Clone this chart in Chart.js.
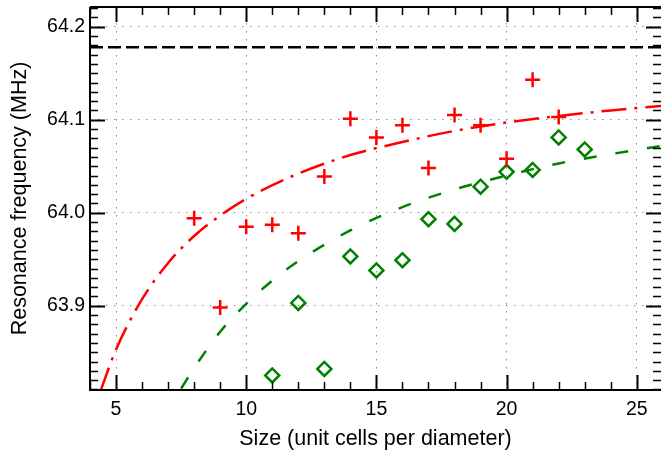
<!DOCTYPE html>
<html>
<head>
<meta charset="utf-8">
<script src="https://cdn.jsdelivr.net/npm/chart.js@4/dist/chart.umd.min.js"></script>
<style>
  html, body { margin: 0; padding: 0; background: #fff; }
  #wrap { width: 661px; height: 454px; }
</style>
</head>
<body>
<div id="wrap"><canvas id="c" width="661" height="454"></canvas></div>
<script>
// ---- data ----
const redSizes  = [8, 9, 10, 11, 12, 13, 14, 15, 16, 17, 18, 19, 20, 21, 22];
const redFreq   = [63.994, 63.898, 63.985, 63.987, 63.978, 64.039, 64.101, 64.081, 64.094, 64.048, 64.105, 64.094, 64.058, 64.143, 64.103];

const greenSizes = [11, 12, 13, 14, 15, 16, 17, 18, 19, 20, 21, 22, 23];
const greenFreq  = [63.825, 63.903, 63.832, 63.953, 63.938, 63.949, 63.993, 63.988, 64.028, 64.044, 64.046, 64.081, 64.068];

const redFitX = [4.4, 5, 6, 7, 8, 9, 10, 12, 14, 16, 18, 20, 22, 24, 26];
const redFitY = [63.808, 63.853, 63.907, 63.946, 63.975, 63.997, 64.015, 64.042, 64.062, 64.076, 64.088, 64.097, 64.104, 64.110, 64.115];

const greenFitX = [7.5, 8, 9, 10, 11, 12, 14, 16, 18, 20, 22, 24, 26];
const greenFitY = [63.811, 63.833, 63.872, 63.902, 63.927, 63.948, 63.981, 64.006, 64.025, 64.040, 64.053, 64.063, 64.072];

const limitX = [4, 26];
const limitY = [64.178, 64.178];

const xTicks = [5, 10, 15, 20, 25];
const yTicks = [63.9, 64.0, 64.1, 64.2];
const yTickLabels = ['63.9', '64.0', '64.1', '64.2'];

const xTitle = 'Size (unit cells per diameter)';
const yTitle = 'Resonance frequency (MHz)';

// ---- helpers ----
const pts = (xs, ys) => xs.map((x, i) => ({ x: x, y: ys[i] }));
const FONT = "'Liberation Sans', Arial, Helvetica, sans-serif";
const noPad = s => { s.paddingLeft = 0; s.paddingRight = 0; s.paddingTop = 0; s.paddingBottom = 0; };

const frameTicks = {
  id: 'frameTicks',
  afterDatasetsDraw(chart) {
    const ctx = chart.ctx;
    const a = chart.chartArea;
    const xs = chart.scales.x, ys = chart.scales.y;
    ctx.save();
    ctx.strokeStyle = '#000';
    // frame (left, bottom, top)
    ctx.lineWidth = 2;
    ctx.beginPath();
    ctx.moveTo(a.left, a.top); ctx.lineTo(a.right + 2, a.top);
    ctx.moveTo(a.left, a.top); ctx.lineTo(a.left, a.bottom);
    ctx.moveTo(a.left - 1, a.bottom); ctx.lineTo(a.right + 2, a.bottom);
    ctx.stroke();
    const MAJ = 15, MIN = 8;
    // x ticks (minor every 1, major every 5)
    for (let v = Math.ceil(xs.min); v <= Math.floor(xs.max); v++) {
      const px = Math.round(xs.getPixelForValue(v)) + 0.5;
      const major = v % 5 === 0;
      const L = major ? MAJ : MIN;
      ctx.lineWidth = major ? 2 : 1.5;
      ctx.beginPath();
      ctx.moveTo(px, a.bottom); ctx.lineTo(px, a.bottom - L);
      ctx.moveTo(px, a.top); ctx.lineTo(px, a.top + L);
      ctx.stroke();
    }
    // y ticks (minor every 0.01, major every 0.1)
    const i0 = Math.ceil(ys.min * 100 - 1e-6), i1 = Math.floor(ys.max * 100 + 1e-6);
    for (let i = i0; i <= i1; i++) {
      const v = i / 100;
      const py = Math.round(ys.getPixelForValue(v)) + 0.5;
      const major = i % 10 === 0;
      const L = major ? MAJ : MIN;
      ctx.lineWidth = major ? 2 : 1.5;
      ctx.beginPath();
      ctx.moveTo(a.left, py); ctx.lineTo(a.left + L, py);
      ctx.moveTo(a.right, py); ctx.lineTo(a.right - L, py);
      ctx.stroke();
    }
    ctx.restore();
  }
};

new Chart(document.getElementById('c'), {
  type: 'scatter',
  data: {
    datasets: [
      {
        type: 'line', label: 'limit', data: pts(limitX, limitY),
        borderColor: '#000', borderWidth: 2.5, borderDash: [13, 5],
        pointRadius: 0, fill: false, order: 3
      },
      {
        type: 'line', label: 'red fit', data: pts(redFitX, redFitY),
        borderColor: '#ff0000', borderWidth: 2.5, borderDash: [25, 8, 3, 8],
        cubicInterpolationMode: 'monotone', pointRadius: 0, fill: false, order: 2
      },
      {
        type: 'line', label: 'green fit', data: pts(greenFitX, greenFitY),
        borderColor: '#008000', borderWidth: 2.5, borderDash: [13, 19],
        cubicInterpolationMode: 'monotone', pointRadius: 0, fill: false, order: 2
      },
      {
        label: 'red', data: pts(redSizes, redFreq),
        pointStyle: 'cross', pointRadius: 7.5, borderColor: '#ff0000',
        backgroundColor: 'rgba(0,0,0,0)', pointBorderWidth: 2.5, borderWidth: 2.5, order: 1
      },
      {
        label: 'green', data: pts(greenSizes, greenFreq),
        pointStyle: 'rectRot', pointRadius: 7, borderColor: '#008000',
        backgroundColor: 'rgba(0,0,0,0)', pointBorderWidth: 2.5, borderWidth: 2.5, order: 1
      }
    ]
  },
  options: {
    responsive: false,
    animation: false,
    devicePixelRatio: 1,
    layout: { autoPadding: false, padding: { top: 7, right: 0, left: 0, bottom: 0 } },
    plugins: { legend: { display: false }, tooltip: { enabled: false } },
    scales: {
      x: {
        type: 'linear', min: 4, max: 25.93,
        afterBuildTicks: s => { s.ticks = xTicks.map(v => ({ value: v })); },
        afterFit: s => { s.height = 64; noPad(s); },
        grid: { color: '#8c8c8c', lineWidth: 1, drawTicks: false },
        border: { display: false, dash: [1.5, 6.5] },
        ticks: { color: '#000', font: { family: FONT, size: 19.5 }, padding: 8, maxRotation: 0 },
        title: { display: true, text: xTitle, color: '#000', font: { family: FONT, size: 21.5, lineHeight: 1 }, padding: { top: 0, bottom: 4 } }
      },
      y: {
        type: 'linear', min: 63.8094, max: 64.2212,
        afterBuildTicks: s => { s.ticks = yTicks.map(v => ({ value: v })); },
        afterFit: s => { s.width = 90; noPad(s); },
        grid: { color: '#8c8c8c', lineWidth: 1, drawTicks: false },
        border: { display: false, dash: [1.5, 6.5] },
        ticks: {
          color: '#000', font: { family: FONT, size: 19.5 }, padding: 5,
          callback: (v, i) => yTickLabels[i]
        },
        title: { display: true, text: yTitle, color: '#000', font: { family: FONT, size: 21.5, lineHeight: 1 }, padding: { top: 9, bottom: 0 } }
      }
    }
  },
  plugins: [frameTicks]
});
</script>
</body>
</html>
